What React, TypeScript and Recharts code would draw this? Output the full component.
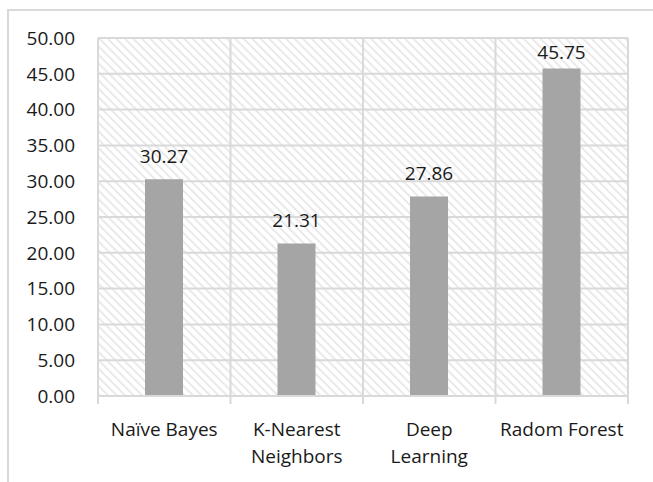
import { BarChart, Bar, XAxis, YAxis, CartesianGrid, LabelList } from 'recharts';

// Model scores
const categories = ['Naïve Bayes', 'K-Nearest Neighbors', 'Deep Learning', 'Radom Forest'];
const categoryLines = [['Naïve Bayes'], ['K-Nearest', 'Neighbors'], ['Deep', 'Learning'], ['Radom Forest']];
const scores = [30.27, 21.31, 27.86, 45.75];
const yTicks = [0, 5, 10, 15, 20, 25, 30, 35, 40, 45, 50];

const data = categories.map((name, i) => ({ name, score: scores[i] }));

const W = 653;
const H = 482;
const MARGIN = { top: 38, right: 25, left: 0, bottom: 0 };
const Y_AXIS_W = 98;
const X_AXIS_H = 86;
const PLOT_LEFT = MARGIN.left + Y_AXIS_W;
const PLOT_W = W - PLOT_LEFT - MARGIN.right;
const PLOT_TOP = MARGIN.top;
const PLOT_BOTTOM = H - X_AXIS_H;
const FONT = '"Open Sans", "Noto Sans", sans-serif';
const GRID = '#d9d9d9';
const TEXT = '#1a1a1a';

function CategoryTick(props: any) {
  const { x, payload, index } = props;
  const band = PLOT_W / categories.length;
  const lines: string[] = categoryLines[index] ?? [payload.value];
  const left = x - band / 2;
  const right = x + band / 2;
  return (
    <g>
      <line x1={left} x2={left} y1={PLOT_BOTTOM} y2={PLOT_BOTTOM + 8} stroke={GRID} strokeWidth={2} />
      {index === categories.length - 1 && (
        <line x1={right} x2={right} y1={PLOT_BOTTOM} y2={PLOT_BOTTOM + 8} stroke={GRID} strokeWidth={2} />
      )}
      <text x={x} y={PLOT_BOTTOM + 40} textAnchor="middle" fill={TEXT} fontSize={19} fontFamily={FONT}>
        {lines.map((l, i) => (
          <tspan key={i} x={x} dy={i === 0 ? 0 : 27}>
            {l}
          </tspan>
        ))}
      </text>
    </g>
  );
}

// value above the bar, kept inside the plot when the bar is tall
function ValueLabel(props: any) {
  const { x, y, width, value } = props;
  const baseline = Math.max(y - 16.5, PLOT_TOP + 20.5);
  return (
    <text x={x + width / 2} y={baseline} textAnchor="middle" fill={TEXT} fontSize={19} fontFamily={FONT}>
      {Number(value).toFixed(2)}
    </text>
  );
}

export default function App() {
  return (
    <div style={{ position: 'relative', width: W, height: H, overflow: 'hidden' }}>
      <style>{`body{margin:0;overflow:hidden}`}</style>
      <div
        style={{
          position: 'absolute',
          left: 7,
          top: 9,
          width: 700,
          height: 500,
          borderTop: `2px solid ${GRID}`,
          borderLeft: `2px solid ${GRID}`,
          background: '#fff',
        }}
      />
      <div style={{ position: 'absolute', left: 0, top: 0 }}>
        <BarChart width={W} height={H} data={data} margin={MARGIN} barSize={38}>
          <defs>
            <pattern id="hatch" patternUnits="userSpaceOnUse" width="6" height="6" patternTransform="rotate(-45)">
              <rect width="6" height="6" fill="#ffffff" />
              <line x1="0" y1="0" x2="0" y2="6" stroke="#e6e6e6" strokeWidth="3.4" />
            </pattern>
          </defs>
          <CartesianGrid
            fill="url(#hatch)"
            stroke={GRID}
            strokeWidth={2}
            verticalCoordinatesGenerator={({ offset }: any) =>
              categories.map((_, i) => offset.left + (i * offset.width) / categories.length).concat(offset.left + offset.width)
            }
          />
          <XAxis
            dataKey="name"
            height={X_AXIS_H}
            axisLine={{ stroke: GRID, strokeWidth: 2 }}
            tickLine={false}
            tick={<CategoryTick />}
            interval={0}
          />
          <YAxis
            width={Y_AXIS_W}
            domain={[0, 50]}
            ticks={yTicks}
            axisLine={false}
            tickLine={false}
            tickMargin={17}
            tickFormatter={(v: number) => v.toFixed(2)}
            tick={{ fill: TEXT, fontSize: 19, fontFamily: FONT }}
          />
          <Bar dataKey="score" fill="#a5a5a5" isAnimationActive={false}>
            <LabelList dataKey="score" content={<ValueLabel />} />
          </Bar>
        </BarChart>
      </div>
    </div>
  );
}
